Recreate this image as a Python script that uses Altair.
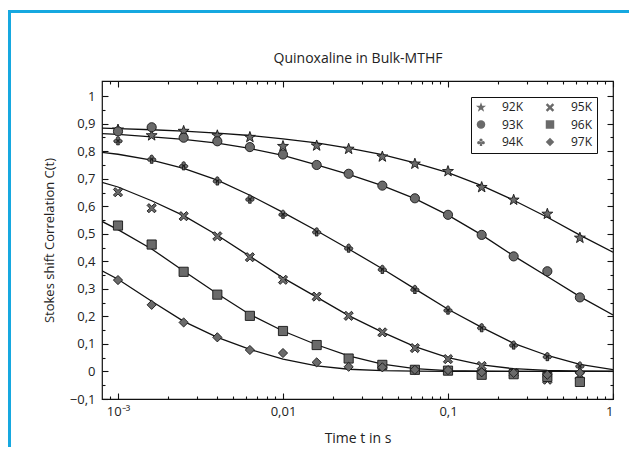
import altair as alt
import pandas as pd

# ---------------- data ----------------
series = ["92K", "93K", "94K", "95K", "96K", "97K"]
times = [0.001, 0.0016, 0.0025, 0.004, 0.0063, 0.01, 0.016, 0.025, 0.04,
         0.063, 0.1, 0.16, 0.25, 0.4, 0.63]

c92 = [0.878, 0.857, 0.873, 0.857, 0.851, 0.818, 0.820, 0.808, 0.780, 0.754, 0.727, 0.669, 0.623, 0.572, 0.485]
c93 = [0.872, 0.887, 0.849, 0.836, 0.815, 0.788, 0.750, 0.718, 0.675, 0.629, 0.569, 0.496, 0.418, 0.364, 0.269]
c94 = [0.839, 0.772, 0.748, 0.693, 0.627, 0.572, 0.508, 0.449, 0.372, 0.299, 0.224, 0.160, 0.097, 0.055, 0.021]
c95 = [0.651, 0.593, 0.564, 0.491, 0.415, 0.333, 0.272, 0.202, 0.142, 0.085, 0.045, 0.020, -0.005, -0.030, -0.015]
c96 = [0.530, 0.461, 0.362, 0.279, 0.202, 0.147, 0.096, 0.047, 0.024, 0.006, 0.003, -0.012, -0.010, -0.020, -0.038]
c97 = [0.332, 0.242, 0.178, 0.124, 0.078, 0.067, 0.033, 0.017, 0.015, 0.006, 0.005, -0.003, -0.005, -0.012, -0.005]

# fitted curves, read at these times
fit_t = [0.0008, 0.001, 0.0016, 0.0025, 0.004, 0.0063, 0.01, 0.016, 0.025, 0.04,
         0.063, 0.1, 0.16, 0.25, 0.4, 0.63, 1.0]
f92 = [0.884, 0.882, 0.878, 0.873, 0.866, 0.857, 0.845, 0.830, 0.811, 0.788, 0.758, 0.722, 0.675, 0.622, 0.560, 0.495, 0.433]
f93 = [0.864, 0.861, 0.852, 0.843, 0.829, 0.810, 0.785, 0.750, 0.716, 0.675, 0.628, 0.568, 0.496, 0.420, 0.345, 0.272, 0.205]
f94 = [0.796, 0.789, 0.768, 0.738, 0.695, 0.640, 0.578, 0.511, 0.445, 0.373, 0.300, 0.226, 0.160, 0.102, 0.058, 0.026, 0.007]
f95 = [0.687, 0.670, 0.620, 0.566, 0.495, 0.418, 0.340, 0.270, 0.203, 0.143, 0.090, 0.050, 0.024, 0.010, 0.004, 0.001, 0.000]
f96 = [0.545, 0.515, 0.445, 0.365, 0.282, 0.207, 0.147, 0.097, 0.057, 0.027, 0.010, 0.003, 0.001, 0.000, 0.000, 0.000, 0.000]
f97 = [0.366, 0.335, 0.255, 0.182, 0.124, 0.080, 0.045, 0.020, 0.008, 0.003, 0.001, 0.000, 0.000, 0.000, 0.000, 0.000, 0.000]

x_major = [0.001, 0.01, 0.1, 1.0]
x_labels = ["10⁻³", "0,01", "0,1", "1"]
x_minor = [0.0009, 0.002, 0.003, 0.004, 0.005, 0.006, 0.007, 0.008, 0.009,
           0.02, 0.03, 0.04, 0.05, 0.06, 0.07, 0.08, 0.09,
           0.2, 0.3, 0.4, 0.5, 0.6, 0.7, 0.8, 0.9]
y_major = [-0.1, 0.0, 0.1, 0.2, 0.3, 0.4, 0.5, 0.6, 0.7, 0.8, 0.9, 1.0]
y_minor = [-0.05, 0.05, 0.15, 0.25, 0.35, 0.45, 0.55, 0.65, 0.75, 0.85, 0.95]

title_text = "Quinoxaline in Bulk-MTHF"
x_title = "Time t in s"
y_title = "Stokes shift Correlation C(t)"

# ---------------- tables ----------------
point_vals = [c92, c93, c94, c95, c96, c97]
fit_vals = [f92, f93, f94, f95, f96, f97]
pts = pd.DataFrame({
    "t": [t for _ in series for t in times],
    "c": [v for vals in point_vals for v in vals],
    "series": [s for s in series for _ in times],
})
fit = pd.DataFrame({
    "t": [t for _ in series for t in fit_t],
    "c": [v for vals in fit_vals for v in vals],
    "series": [s for s in series for _ in fit_t],
})

# ---------------- styling ----------------
FONT = "Open Sans"
STAR = ("M0,-1.25L0.294,-0.405L1.189,-0.386L0.475,0.155L0.735,1.011L0,0.5L-0.735,1.011"
        "L-0.475,0.155L-1.189,-0.386L-0.294,-0.405Z")
CLUB = ("M-0.38,-0.45a0.38,0.38 0 1,0 0.76,0a0.38,0.38 0 1,0 -0.76,0Z"
        "M-0.9,0.15a0.38,0.38 0 1,0 0.76,0a0.38,0.38 0 1,0 -0.76,0Z"
        "M0.14,0.15a0.38,0.38 0 1,0 0.76,0a0.38,0.38 0 1,0 -0.76,0Z"
        "M-0.15,0L0.15,0L0.3,0.95L-0.3,0.95Z")
XMARK = "M-1,-0.6L-0.6,-1L0,-0.4L0.6,-1L1,-0.6L0.4,0L1,0.6L0.6,1L0,0.4L-0.6,1L-1,0.6L-0.4,0Z"
shape_of = {"92K": STAR, "93K": "circle", "94K": CLUB, "95K": XMARK, "96K": "square", "97K": "diamond"}

xs = alt.Scale(type="log", domain=[0.0008, 1.0], nice=False)
ys = alt.Scale(domain=[-0.1, 1.055], nice=False, zero=False)

x_label_expr = " : ".join(
    f"abs(datum.value - {v}) < {v / 100} ? '{lab}'" for v, lab in zip(x_major, x_labels)
) + " : ''"
y_label_expr = "replace(format(datum.value, '.1~f'), '.', ',')"

common = dict(grid=False, domain=False, tickColor="#111", tickWidth=1.1, labelColor="#222",
              labelFont=FONT, labelFontSize=13, titleFont=FONT, titleFontSize=13,
              titleFontWeight="normal", titleColor="#222")

lines = alt.Chart(fit).mark_line(color="#111", strokeWidth=1.3, clip=True).encode(
    x=alt.X("t:Q", scale=xs, axis=alt.Axis(orient="bottom", values=x_major, labelExpr=x_label_expr,
                                           tickSize=6, offset=-6, labelPadding=6, title=x_title,
                                           titlePadding=13, **{**common, "titleFontSize": 14})),
    y=alt.Y("c:Q", scale=ys, axis=alt.Axis(orient="left", values=y_major, labelExpr=y_label_expr,
                                           tickSize=6, offset=-6, labelPadding=7, title=y_title,
                                           titlePadding=13, **common)),
    detail="series:N",
)

points = alt.Chart(pts).mark_point(filled=True, fill="#6a6a6a", stroke="#161616", strokeWidth=0.9,
                                   opacity=1, size=84, clip=True).encode(
    x=alt.X("t:Q", scale=xs, axis=alt.Axis(orient="bottom", values=x_minor, labels=False,
                                           tickSize=3, offset=-3, title=None, **common)),
    y=alt.Y("c:Q", scale=ys, axis=alt.Axis(orient="left", values=y_minor, labels=False,
                                           tickSize=3, offset=-3, title=None, **common)),
    shape=alt.Shape("series:N",
                    scale=alt.Scale(domain=series, range=[shape_of[s] for s in series]),
                    legend=alt.Legend(title=None, orient="top-right", offset=16, columns=2,
                                      strokeColor="#111", fillColor="white", padding=4,
                                      symbolSize=72, symbolFillColor="#6a6a6a",
                                      symbolStrokeColor="#161616", symbolStrokeWidth=0.9,
                                      labelFont=FONT, labelFontSize=12, labelColor="#222",
                                      labelOffset=15, columnPadding=19, rowPadding=3.5)),
)

top_right_major = alt.Chart(fit).mark_line(opacity=0).encode(
    x=alt.X("t:Q", scale=xs, axis=alt.Axis(orient="top", values=x_major, labels=False,
                                           tickSize=6, offset=-6, title=title_text,
                                           titlePadding=15, **{**common, "titleFontSize": 14})),
    y=alt.Y("c:Q", scale=ys, axis=alt.Axis(orient="right", values=y_major, labels=False,
                                           tickSize=6, offset=-6, title=None, **common)),
    detail="series:N",
)
top_right_minor = alt.Chart(fit).mark_line(opacity=0).encode(
    x=alt.X("t:Q", scale=xs, axis=alt.Axis(orient="top", values=x_minor, labels=False,
                                           tickSize=3, offset=-3, title=None, **common)),
    y=alt.Y("c:Q", scale=ys, axis=alt.Axis(orient="right", values=y_minor, labels=False,
                                           tickSize=3, offset=-3, title=None, **common)),
    detail="series:N",
)

frame_df = pd.DataFrame({"k": [0]})
BLUE = "#16a8e0"
frame_top = alt.Chart(frame_df).mark_rule(color=BLUE, strokeWidth=3).encode(
    x=alt.value(-92.5), x2=alt.value(527), y=alt.value(-69.5))
frame_left = alt.Chart(frame_df).mark_rule(color=BLUE, strokeWidth=3).encode(
    x=alt.value(-92.5), y=alt.value(-71), y2=alt.value(366))

chart = alt.layer(
    lines, points, top_right_major, top_right_minor, frame_top, frame_left
).resolve_axis(
    x="independent", y="independent"
).properties(
    width=511, height=318, padding=0,
).configure_view(stroke="#111", strokeWidth=1.2)

chart.save("out.html", embed_options={"renderer": "svg", "actions": False})
